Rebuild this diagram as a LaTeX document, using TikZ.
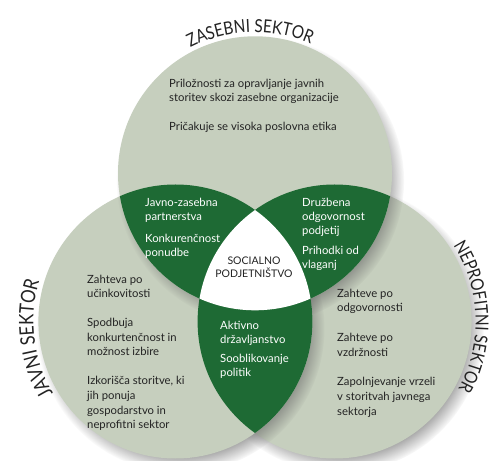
\documentclass[tikz,border=0pt]{standalone}
\usepackage{fontspec}
\setmainfont{Lato}
\newfontfamily\lblfont[FakeStretch=0.85]{Lato}
\usetikzlibrary{shadows,decorations.text}
\definecolor{sage}{RGB}{198,207,190}
\definecolor{dgreen}{RGB}{30,106,52}
\definecolor{ink}{RGB}{35,35,35}
\def\crad{137}
\begin{document}
\begin{tikzpicture}[x=1pt,y=1pt,
  circ/.style={fill=sage, circular drop shadow={shadow xshift=5pt, shadow yshift=-7pt, shadow scale=1.05, opacity=0.7, fill=black!60}},
  body/.style={anchor=north west, inner sep=0pt, align=left, text=ink, font=\fontsize{11.3}{14.7}\selectfont},
  lens/.style={anchor=north west, inner sep=0pt, align=left, text=white, font=\fontsize{11.3}{14}\selectfont},
  arclabel/.style={decorate, decoration={text along path, text align=center, text color=ink, text={#1}}}
]
\useasboundingbox (0,0) rectangle (492,460);
\fill[white] (0,0) rectangle (492,460);
\coordinate (T) at (255,286.7);
\coordinate (L) at (175.4,138.5);
\coordinate (R) at (334.6,138.5);
% circles
\path[circ] (R) circle[radius=\crad];
\path[circ] (L) circle[radius=\crad];
\path[circ] (T) circle[radius=\crad];
% pairwise intersections
\begin{scope}
  \clip (T) circle[radius=\crad];
  \fill[dgreen] (L) circle[radius=\crad];
  \fill[dgreen] (R) circle[radius=\crad];
\end{scope}
\begin{scope}
  \clip (L) circle[radius=\crad];
  \fill[dgreen] (R) circle[radius=\crad];
\end{scope}
% triple intersection
\begin{scope}
  \clip (T) circle[radius=\crad];
  \clip (L) circle[radius=\crad];
  \fill[white] (R) circle[radius=\crad];
\end{scope}
% curved sector labels
\path[arclabel={|\lblfont\fontsize{18}{20}\selectfont|ZASEBNI SEKTOR}]
  (T) ++(127:141) arc[start angle=127, end angle=57, radius=141];
\path[arclabel={|\lblfont\fontsize{20}{22}\selectfont|JAVNI SEKTOR}]
  (L) ++(223:142) arc[start angle=223, end angle=151, radius=142];
\path[arclabel={|\lblfont\fontsize{18}{20}\selectfont|NEPROFITNI SEKTOR}]
  (R) ++(38:141) arc[start angle=38, end angle=-34, radius=141];
% texts
\node[body] (zasebni) at (169,383) {\rule{0pt}{10pt}Priložnosti za opravljanje javnih\\storitev skozi zasebne organizacije\\[13.5pt]Pričakuje se visoka poslovna etika};
\node[body] (javni) at (87,187) {\rule{0pt}{10pt}Zahteva po\\učinkovitosti\\[14pt]Spodbuja\\konkurtenčnost in\\možnost izbire\\[14pt]Izkorišča storitve, ki\\jih ponuja\\gospodarstvo in\\neprofitni sektor};
\node[body] (neprofitni) at (337,173) {\rule{0pt}{10pt}Zahteve po\\odgovornosti\\[15pt]Zahteve po\\vzdržnosti\\[15pt]Zapolnjevanje vrzeli\\v storitvah javnega\\sektorja};
\node[lens] (jz) at (145,264) {\rule{0pt}{10pt}Javno-zasebna\\partnerstva\\[8pt]Konkurenčnost\\ponudbe};
\node[lens] (zn) at (302,264) {\rule{0pt}{10pt}Družbena\\odgovornost\\podjetij\\[6pt]Prihodki od\\vlaganj};
\node[lens] (jn) at (220,141) {\rule{0pt}{10pt}Aktivno\\državljanstvo\\[5pt]Sooblikovanje\\politik};
\node[anchor=north, inner sep=0pt, align=center, text=ink, font=\fontsize{10.5}{13}\selectfont] (sp) at (254,206) {\rule{0pt}{10pt}SOCIALNO\\PODJETNIŠTVO};
\end{tikzpicture}
\end{document}
